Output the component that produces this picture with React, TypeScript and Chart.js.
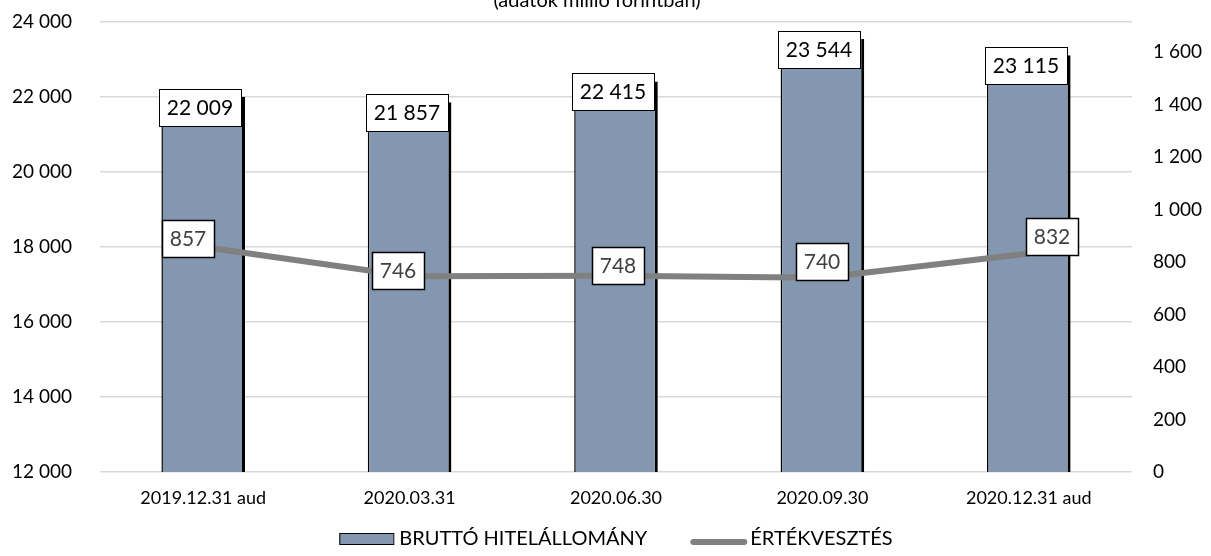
import React, { useEffect, useRef } from 'react';
import { Chart, registerables } from 'chart.js';

Chart.register(...registerables);

const CATEGORIES = ['2019.12.31 aud', '2020.03.31', '2020.06.30', '2020.09.30', '2020.12.31 aud'];
const GROSS_LOANS = [22009, 21857, 22415, 23544, 23115];
const IMPAIRMENT = [857, 746, 748, 740, 832];
const SERIES_NAMES = ['BRUTTÓ HITELÁLLOMÁNY', 'ÉRTÉKVESZTÉS'];
const TITLE = '(adatok millió forintban)';

const LEFT_MIN = 12000;
const LEFT_MAX = 24000;
const LEFT_STEP = 2000;
const RIGHT_STEP = 200;
const RIGHT_TOP_TICK = 1600;

// label box offsets (layout only)
const LINE_LABEL_OFFSETS: [number, number][] = [[-15, -9], [-12, -6], [2, -10], [0, -16], [23, -17]];

const FONT = 'Lato, "Open Sans", sans-serif';
const BAR_COLOR = '#8497B0';
const LINE_COLOR = '#808080';

const fmt = (v: number) => String(Math.round(v)).replace(/\B(?=(\d{3})+(?!\d))/g, ' ');

const labelsPlugin = {
  id: 'valueLabels',
  afterDatasetsDraw(chart: any) {
    const ctx = chart.ctx;
    const lineMeta = chart.getDatasetMeta(0);
    const barMeta = chart.getDatasetMeta(1);
    ctx.save();
    ctx.font = `21px ${FONT}`;
    ctx.textAlign = 'center';
    ctx.textBaseline = 'middle';
    barMeta.data.forEach((el: any, i: number) => {
      const w = 82, h = 37;
      const x0 = Math.round(el.x - 44), y0 = Math.round(el.y - 8);
      ctx.fillStyle = '#fff';
      ctx.fillRect(x0, y0, w, h);
      ctx.strokeStyle = '#000';
      ctx.lineWidth = 1;
      ctx.strokeRect(x0 + 0.5, y0 + 0.5, w, h);
      ctx.fillStyle = '#000';
      ctx.fillText(fmt(GROSS_LOANS[i]), x0 + w / 2, y0 + h / 2 + 1);
    });
    lineMeta.data.forEach((el: any, i: number) => {
      const w = 52, h = 37;
      const [dx, dy] = LINE_LABEL_OFFSETS[i];
      const cx = el.x + dx, cy = el.y + dy;
      const x0 = Math.round(cx - w / 2), y0 = Math.round(cy - h / 2);
      ctx.fillStyle = '#fff';
      ctx.fillRect(x0, y0, w, h);
      ctx.strokeStyle = '#000';
      ctx.lineWidth = 1.5;
      ctx.strokeRect(x0 + 0.5, y0 + 0.5, w, h);
      ctx.fillStyle = '#404040';
      ctx.fillText(fmt(IMPAIRMENT[i]), x0 + w / 2, y0 + h / 2 + 1);
    });
    ctx.restore();
  },
};

const decorPlugin = {
  id: 'decor',
  afterDraw(chart: any) {
    const ctx = chart.ctx;
    const area = chart.chartArea;
    ctx.save();
    // title (cut at top)
    ctx.font = `20px ${FONT}`;
    ctx.fillStyle = '#000';
    ctx.textAlign = 'center';
    ctx.textBaseline = 'alphabetic';
    ctx.fillText(TITLE, 597, 7);

    // legend
    ctx.font = `20px ${FONT}`;
    ctx.textBaseline = 'middle';
    ctx.textAlign = 'left';
    const sw1 = 54, g1 = 6, gap = 43, sw2 = 57, g2 = 3;
    const t1 = ctx.measureText(SERIES_NAMES[0]).width;
    const t2 = ctx.measureText(SERIES_NAMES[1]).width;
    const total = sw1 + g1 + t1 + gap + sw2 + g2 + t2;
    let x = (area.left + area.right) / 2 - total / 2;
    const ty = 539;
    ctx.fillStyle = BAR_COLOR;
    ctx.fillRect(x, 533, sw1, 11);
    ctx.strokeStyle = '#000';
    ctx.lineWidth = 1;
    ctx.strokeRect(x + 0.5, 533.5, sw1, 11);
    x += sw1 + g1;
    ctx.fillStyle = '#000';
    ctx.fillText(SERIES_NAMES[0], x, ty);
    x += t1 + gap;
    ctx.strokeStyle = LINE_COLOR;
    ctx.lineWidth = 6;
    ctx.lineCap = 'round';
    ctx.beginPath();
    ctx.moveTo(x + 3, 542);
    ctx.lineTo(x + sw2 - 3, 542);
    ctx.stroke();
    x += sw2 + g2;
    ctx.fillStyle = '#000';
    ctx.fillText(SERIES_NAMES[1], x, ty);
    ctx.restore();
  },
};

export default function App() {
  const ref = useRef<HTMLCanvasElement>(null);

  useEffect(() => {
    if (!ref.current) return;
    const chart = new Chart(ref.current, {
      type: 'bar',
      data: {
        labels: CATEGORIES,
        datasets: [
          {
            type: 'line',
            label: SERIES_NAMES[1],
            data: IMPAIRMENT,
            yAxisID: 'y1',
            borderColor: LINE_COLOR,
            backgroundColor: LINE_COLOR,
            borderWidth: 6,
            pointRadius: 0,
            tension: 0,
            order: 1,
          } as any,
          {
            type: 'bar',
            label: SERIES_NAMES[0],
            data: GROSS_LOANS,
            yAxisID: 'y',
            backgroundColor: BAR_COLOR,
            borderColor: '#000',
            borderWidth: { left: 1.5, right: 3, top: 0, bottom: 0 },
            borderSkipped: false,
            barPercentage: 0.81,
            categoryPercentage: 0.5,
            order: 2,
          } as any,
        ],
      },
      options: {
        responsive: false,
        animation: false,
        devicePixelRatio: 1,
        layout: { padding: { top: 22, bottom: 44, left: 0, right: 0 } },
        plugins: {
          legend: { display: false },
          title: { display: false },
          tooltip: { enabled: false },
        },
        scales: {
          x: {
            grid: { display: false, drawTicks: false },
            border: { display: false },
            ticks: {
              color: '#000',
              font: { family: FONT, size: 18 },
              padding: 15,
              maxRotation: 0,
              autoSkip: false,
            },
            afterFit: (s: any) => { s.height = 40; },
          },
          y: {
            position: 'left',
            min: LEFT_MIN,
            max: LEFT_MAX,
            grid: { color: '#d9d9d9', lineWidth: 1.5, drawTicks: false },
            border: { display: false },
            ticks: {
              stepSize: LEFT_STEP,
              color: '#000',
              font: { family: FONT, size: 19 },
              padding: 28,
              callback: (v: any) => fmt(Number(v)),
            },
            afterFit: (s: any) => { s.width = 100; s.paddingTop = 0; s.paddingBottom = 0; },
          },
          y1: {
            position: 'right',
            min: 0,
            max: RIGHT_TOP_TICK * 450 / 420,
            grid: { display: false, drawTicks: false },
            border: { display: false },
            ticks: {
              stepSize: RIGHT_STEP,
              color: '#000',
              font: { family: FONT, size: 19 },
              padding: 21,
              callback: (v: any) => fmt(Number(v)),
            },
            afterBuildTicks: (s: any) => {
              s.ticks = s.ticks.filter((t: any) => t.value <= RIGHT_TOP_TICK && t.value % RIGHT_STEP === 0);
            },
            afterFit: (s: any) => { s.width = 79; s.paddingTop = 0; s.paddingBottom = 0; },
          },
        },
      },
      plugins: [labelsPlugin, decorPlugin],
    } as any);
    return () => chart.destroy();
  }, []);

  return (
    <div style={{ position: 'fixed', left: 0, top: 0, width: 1211, height: 556, background: '#fff' }}>
      <canvas ref={ref} width={1211} height={556} style={{ display: 'block' }} />
    </div>
  );
}
